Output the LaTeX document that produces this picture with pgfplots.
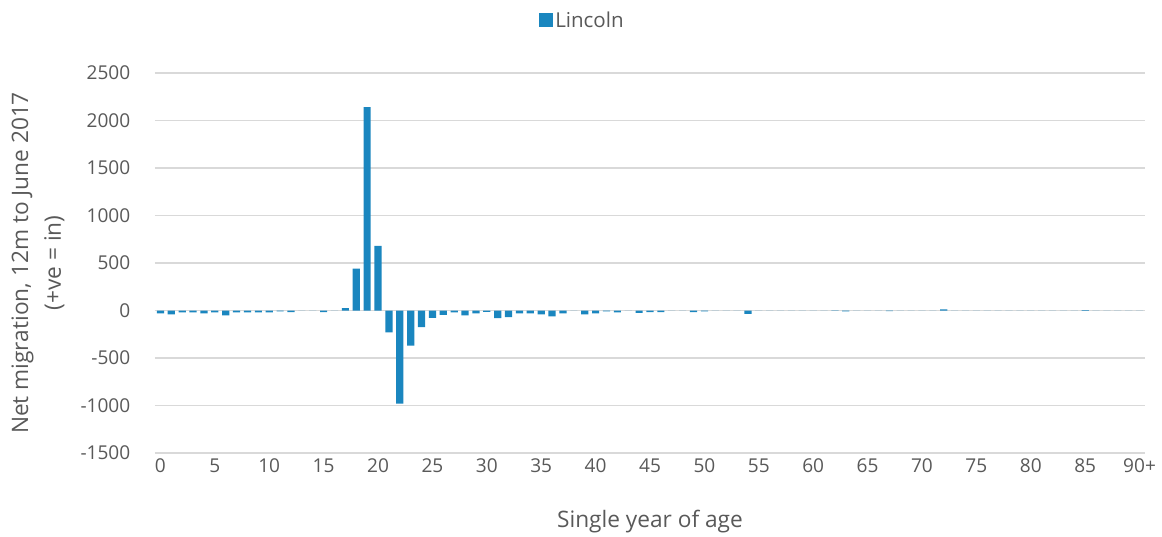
\documentclass[border=0pt]{standalone}
\usepackage{pgfplots}
\pgfplotsset{compat=1.18}
\usepackage{fontspec}
\setmainfont{Open Sans}
\definecolor{barblue}{RGB}{26,134,191}
\definecolor{txtgray}{RGB}{89,89,89}
\definecolor{gridgray}{RGB}{217,217,217}
\pgfplotstableread{
x y
0 -30
1 -42
2 -20
3 -20
4 -30
5 -20
6 -52
7 -20
8 -20
9 -20
10 -20
11 -10
12 -18
13 0
14 0
15 -18
16 0
17 25
18 440
19 2140
20 680
21 -230
22 -980
23 -370
24 -175
25 -77
26 -45
27 -20
28 -52
29 -30
30 -15
31 -80
32 -70
33 -30
34 -30
35 -42
36 -63
37 -30
38 0
39 -40
40 -30
41 -10
42 -20
43 0
44 -25
45 -18
46 -18
47 0
48 0
49 -18
50 -10
51 0
52 0
53 0
54 -35
55 0
56 0
57 0
58 0
59 0
60 0
61 0
62 -5
63 -10
64 0
65 0
66 0
67 -6
68 0
69 0
70 0
71 0
72 12
73 0
74 0
75 0
76 0
77 0
78 0
79 0
80 0
81 0
82 0
83 0
84 0
85 4
86 0
87 0
88 0
89 0
90 0
}\datatable
\begin{document}
\begin{tikzpicture}
\path[use as bounding box] (-116.25pt,-62.25pt) rectangle (755.25pt,339.75pt);
\begin{axis}[
  at={(0pt,0pt)}, anchor=south west,
  scale only axis,
  width=742.5pt, height=285pt,
  xmin=-0.5, xmax=90.5,
  ymin=-1500, ymax=2500,
  ytick={-1500,-1000,...,2500},
  xtick={0,5,...,90},
  xticklabels={0,5,10,15,20,25,30,35,40,45,50,55,60,65,70,75,80,85,90+},
  ymajorgrids, grid style={gridgray, line width=0.9pt},
  axis line style={draw=none},
  major tick style={draw=none},
  ticklabel style={font=\fontsize{14.3}{16}\selectfont, text=txtgray},
  /pgf/number format/assume math mode=true,
  /pgf/number format/1000 sep={},
  xlabel={Single year of age},
  ylabel={Net migration, 12m to June 2017\\(+ve = in)},
  label style={font=\fontsize{17}{24.5}\selectfont, text=txtgray, align=center},
  xlabel style={at={(0.5,-0.1816)}, anchor=center},
  ylabel style={at={(-0.1182,0.5)}, anchor=center},
  x tick label style={yshift=-1pt},
  y tick label style={xshift=-15pt},
  legend style={at={(0.4318,1.1368)}, anchor=center, draw=none, fill=none,
    font=\fontsize{15.4}{17}\selectfont, text=txtgray, inner sep=0pt},
  legend image code/.code={\fill[barblue] (0pt,-4.5pt) rectangle (10.5pt,6pt);},
]
\addplot[ybar, bar width=5.4pt, bar shift=0pt, fill=barblue, draw=none] table[x=x,y=y] {\datatable};
\addlegendentry{Lincoln}
\end{axis}
\end{tikzpicture}
\end{document}
